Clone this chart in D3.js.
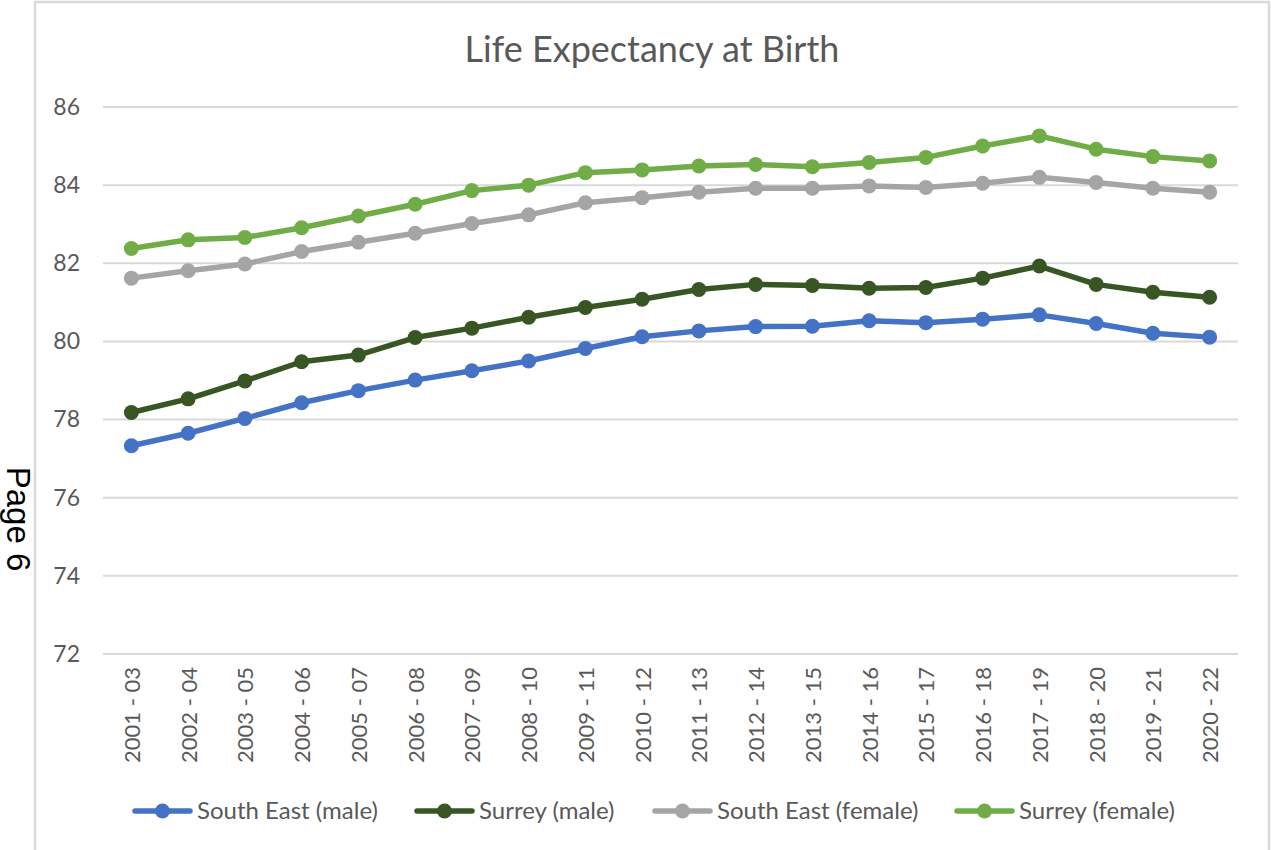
<!DOCTYPE html>
<html>
<head>
<title>Life Expectancy at Birth</title>
<script src="https://d3js.org/d3.v7.min.js"></script>
<style>
  body { margin: 0; background: #ffffff; }
  svg { display: block; }
</style>
</head>
<body>
<div id="chart"></div>
<script>
// periods on the x axis
var periods = ["2001 - 03", "2002 - 04", "2003 - 05", "2004 - 06", "2005 - 07", "2006 - 08",
  "2007 - 09", "2008 - 10", "2009 - 11", "2010 - 12", "2011 - 13", "2012 - 14", "2013 - 15",
  "2014 - 16", "2015 - 17", "2016 - 18", "2017 - 19", "2018 - 20", "2019 - 21", "2020 - 22"];

// values
var southEastMale = [77.33, 77.65, 78.03, 78.43, 78.74, 79.01, 79.25, 79.50, 79.82, 80.12,
  80.27, 80.38, 80.39, 80.53, 80.48, 80.57, 80.68, 80.46, 80.21, 80.11];
var surreyMale = [78.18, 78.53, 78.99, 79.48, 79.65, 80.10, 80.34, 80.62, 80.87, 81.08,
  81.33, 81.46, 81.43, 81.36, 81.38, 81.62, 81.93, 81.46, 81.26, 81.13];
var southEastFemale = [81.62, 81.81, 81.98, 82.30, 82.54, 82.77, 83.02, 83.24, 83.55, 83.68,
  83.82, 83.92, 83.92, 83.98, 83.94, 84.05, 84.20, 84.07, 83.92, 83.82];
var surreyFemale = [82.38, 82.60, 82.66, 82.91, 83.21, 83.51, 83.86, 84.00, 84.32, 84.39,
  84.49, 84.53, 84.47, 84.58, 84.71, 85.00, 85.26, 84.92, 84.73, 84.62];

var yTicks = [72, 74, 76, 78, 80, 82, 84, 86];

var seriesNames = ["South East (male)", "Surrey (male)", "South East (female)", "Surrey (female)"];
var seriesColors = ["#4472C4", "#375623", "#A5A5A5", "#70AD47"];
var seriesValues = [southEastMale, surreyMale, southEastFemale, surreyFemale];

var W = 1271, H = 850;
var plot = { left: 103, right: 1238, top: 107, bottom: 654 };
var font = "Lato, 'Open Sans', sans-serif";

var svg = d3.select("#chart").append("svg")
  .attr("width", W)
  .attr("height", H);

// frame of the chart area
svg.append("rect")
  .attr("x", 35).attr("y", 2)
  .attr("width", 1234).attr("height", 860)
  .attr("fill", "none")
  .attr("stroke", "#D9D9D9")
  .attr("stroke-width", 2.5);

// "Page 6" on the left, rotated
svg.append("text")
  .attr("transform", "translate(7,519) rotate(90)")
  .attr("text-anchor", "middle")
  .attr("font-family", "'Liberation Sans', Arial, sans-serif")
  .attr("font-size", 33)
  .attr("fill", "#000")
  .text("Page 6");

var x = d3.scalePoint()
  .domain(periods)
  .range([plot.left, plot.right])
  .padding(0.5);

var y = d3.scaleLinear()
  .domain([72, 86])
  .range([plot.bottom, plot.top]);

// gridlines
svg.append("g")
  .selectAll("line")
  .data(yTicks)
  .enter().append("line")
  .attr("x1", plot.left).attr("x2", plot.right)
  .attr("y1", function(d) { return y(d); })
  .attr("y2", function(d) { return y(d); })
  .attr("stroke", "#D9D9D9")
  .attr("stroke-width", 2);

// y axis labels
var yAxis = d3.axisLeft(y).tickValues(yTicks).tickSize(0).tickPadding(0);
var gy = svg.append("g")
  .attr("transform", "translate(80,0)")
  .call(yAxis);
gy.select(".domain").remove();
gy.selectAll("text")
  .attr("font-family", font)
  .attr("font-size", 23)
  .attr("fill", "#595959");

// x axis labels, rotated
var xAxis = d3.axisBottom(x).tickSize(0).tickPadding(0);
var gx = svg.append("g")
  .attr("transform", "translate(0," + (plot.bottom + 13) + ")")
  .call(xAxis);
gx.select(".domain").remove();
gx.selectAll("text")
  .attr("font-family", font)
  .attr("font-size", 22)
  .attr("fill", "#595959")
  .attr("text-anchor", "end")
  .attr("dy", "0.36em")
  .attr("transform", "rotate(-90)");

// title
svg.append("text")
  .attr("x", 652).attr("y", 62)
  .attr("text-anchor", "middle")
  .attr("font-family", font)
  .attr("font-size", 36)
  .attr("fill", "#595959")
  .text("Life Expectancy at Birth");

var line = d3.line()
  .x(function(d, i) { return x(periods[i]); })
  .y(function(d) { return y(d); });

seriesValues.forEach(function(vals, s) {
  var g = svg.append("g");
  g.append("path")
    .datum(vals)
    .attr("d", line)
    .attr("fill", "none")
    .attr("stroke", seriesColors[s])
    .attr("stroke-width", 5.5)
    .attr("stroke-linejoin", "round")
    .attr("stroke-linecap", "round");
  g.selectAll("circle")
    .data(vals)
    .enter().append("circle")
    .attr("cx", function(d, i) { return x(periods[i]); })
    .attr("cy", function(d) { return y(d); })
    .attr("r", 7.5)
    .attr("fill", seriesColors[s]);
});

// legend
var legendX = [133, 415, 653, 955];
var legend = svg.selectAll(".legend")
  .data(seriesNames)
  .enter().append("g")
  .attr("class", "legend")
  .attr("transform", function(d, i) { return "translate(" + legendX[i] + ",811)"; });

legend.append("line")
  .attr("x1", 2).attr("x2", 57)
  .attr("y1", 0).attr("y2", 0)
  .attr("stroke", function(d, i) { return seriesColors[i]; })
  .attr("stroke-width", 5.5)
  .attr("stroke-linecap", "round");

legend.append("circle")
  .attr("cx", 29.5).attr("cy", 0).attr("r", 7.5)
  .attr("fill", function(d, i) { return seriesColors[i]; });

legend.append("text")
  .attr("x", 64).attr("y", 7.5)
  .attr("font-family", font)
  .attr("font-size", 24)
  .attr("fill", "#595959")
  .text(function(d) { return d; });
</script>
</body>
</html>
